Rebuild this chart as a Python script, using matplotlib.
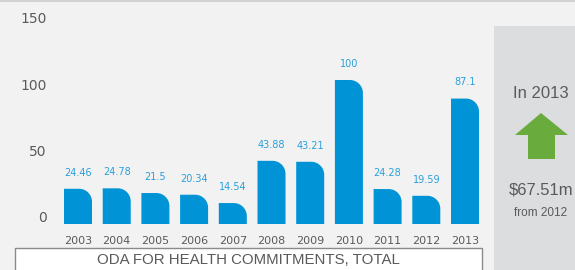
import matplotlib
matplotlib.use('Agg')
from matplotlib import pyplot as plt
from matplotlib.path import Path
from matplotlib.patches import PathPatch, Rectangle, Polygon
import numpy as np

# ---- data
years = ['2003', '2004', '2005', '2006', '2007', '2008', '2009', '2010', '2011', '2012', '2013']
values = [24.46, 24.78, 21.5, 20.34, 14.54, 43.88, 43.21, 100, 24.28, 19.59, 87.1]
value_labels = ['24.46', '24.78', '21.5', '20.34', '14.54', '43.88', '43.21', '100', '24.28', '19.59', '87.1']
axis_ticks = [0, 50, 100, 150]
title = 'ODA FOR HEALTH COMMITMENTS, TOTAL'
side_year = 'In 2013'
side_change = '$67.51m'
side_from = 'from 2012'

bg = '#f2f2f2'
blue = '#0093d6'
label_blue = '#2a9fdc'
grey_txt = '#5a5a5a'
sans = ['Liberation Sans', 'DejaVu Sans']

W, H = 575, 270
fig = plt.figure(figsize=(W/100, H/100), dpi=100, facecolor=bg)

# ---- main axes (pixel geometry)
L, B, AW, AH = 58, 36, 432, 226
ax = fig.add_axes([L/W, B/H, AW/W, AH/H])
ax.set_facecolor('none')
ax.set_xlim(-0.517, -0.517 + AW/38.7)
ax.set_ylim(-6.94, -6.94 + AH/1.44)

x = np.arange(len(years))
w = 28/38.7
rx = 13/38.7
ry = 13/1.44
k = 0.5523
for xi, v in zip(x, values):
    x0, x1 = xi - w/2, xi + w/2
    r_y = min(ry, v)
    verts = [(x0, 0), (x0, v), (x1 - rx, v),
             (x1 - rx + k*rx, v), (x1, v - r_y + k*r_y), (x1, v - r_y),
             (x1, 0), (x0, 0)]
    codes = [Path.MOVETO, Path.LINETO, Path.LINETO,
             Path.CURVE4, Path.CURVE4, Path.CURVE4,
             Path.LINETO, Path.CLOSEPOLY]
    ax.add_patch(PathPatch(Path(verts, codes), facecolor=blue, edgecolor='none'))

for xi, v, lab in zip(x, values, value_labels):
    ax.annotate(lab, (xi, v), xytext=(0, 8), textcoords='offset points',
                ha='center', va='bottom', fontsize=7, color=label_blue)

ax.set_xticks(x)
ax.set_xticklabels(years, fontsize=8, color=grey_txt)
ax.tick_params(axis='x', length=0, pad=1.5)
ax.set_yticks([])
for s in ax.spines.values():
    s.set_visible(False)

# ---- y labels on their own scale
ax2 = ax.twinx()
ax2.set_ylim(-(53 - B)/1.3267, -(53 - B)/1.3267 + AH/1.3267)
ax2.yaxis.tick_left()
ax2.set_yticks(axis_ticks)
ax2.set_yticklabels([str(t) for t in axis_ticks], fontsize=10, color=grey_txt)
ax2.tick_params(axis='y', length=0, pad=8)
for s in ax2.spines.values():
    s.set_visible(False)

# ---- decorations in figure pixels
def fx(px): return px/W
def fy(py): return 1 - py/H

fig.add_artist(Rectangle((0, fy(1.5)), 1, 1.5/H, transform=fig.transFigure,
                         facecolor='#d2d2d2', edgecolor='none'))
fig.add_artist(Rectangle((fx(15), fy(272)), fx(467), (272-248)/H, transform=fig.transFigure,
                         facecolor='white', edgecolor='#8a8a8a', linewidth=1))
fig.text(fx(248), fy(260), title, ha='center', va='center', fontsize=10.8,
         color=grey_txt, family=sans)

# side panel
fig.add_artist(Rectangle((fx(494), 0), fx(81), (270-26)/H, transform=fig.transFigure,
                         facecolor='#dcdddf', edgecolor='none'))
fig.text(fx(541), fy(93), side_year, ha='center', va='center', fontsize=12,
         color=grey_txt, family=sans)
arrow = [(541, 113), (568, 135), (555, 135), (555, 159), (528, 159), (528, 135), (515, 135)]
fig.add_artist(Polygon([(fx(a), fy(b)) for a, b in arrow], closed=True,
                       transform=fig.transFigure, facecolor='#6aab3d', edgecolor='none'))
fig.text(fx(541), fy(190), side_change, ha='center', va='center', fontsize=12,
         color=grey_txt, family=sans)
fig.text(fx(541), fy(213), side_from, ha='center', va='center', fontsize=8.5,
         color=grey_txt, family=sans)

fig.savefig('out.png', dpi=100, facecolor=bg)
